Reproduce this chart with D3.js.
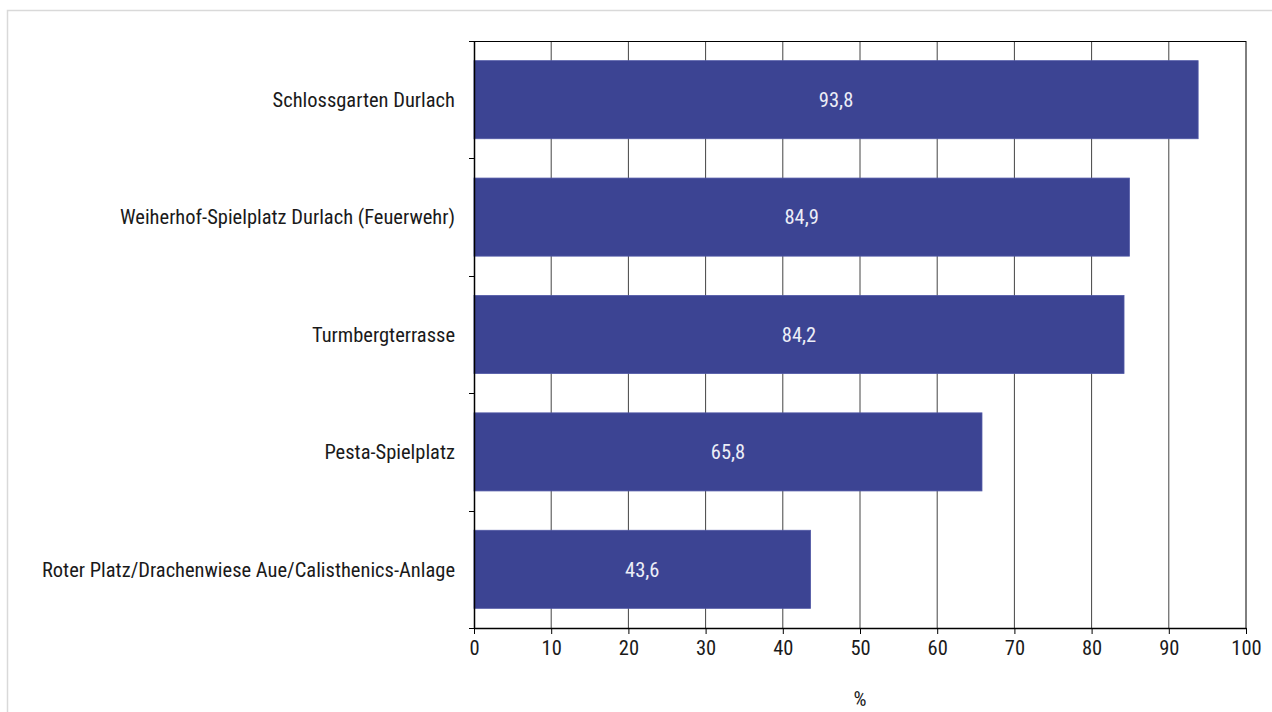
<!DOCTYPE html>
<html>
<head>
<meta charset="utf-8">
<script src="https://cdn.jsdelivr.net/npm/d3@7"></script>
<style>
  html, body { margin: 0; padding: 0; background: #fff; }
  svg { display: block; }
</style>
</head>
<body>
<div id="chart"></div>
<script>
// Categories and values (share in %)
const places = [
  "Schlossgarten Durlach",
  "Weiherhof-Spielplatz Durlach (Feuerwehr)",
  "Turmbergterrasse",
  "Pesta-Spielplatz",
  "Roter Platz/Drachenwiese Aue/Calisthenics-Anlage"
];
const shares = [93.8, 84.9, 84.2, 65.8, 43.6];
const xTicks = [0, 10, 20, 30, 40, 50, 60, 70, 80, 90, 100];
const axisTitle = "%";

const W = 1272, H = 712;
const margin = { top: 41, right: 26, bottom: 84, left: 474 };
const iW = W - margin.left - margin.right;
const iH = H - margin.top - margin.bottom;
const FONT = "'Roboto Condensed', 'Open Sans', sans-serif";
const FS = 20.5;

// shared text styling
function styleText(sel) {
  return sel.attr("font-family", FONT)
    .attr("font-size", FS)
    .attr("font-weight", 400);
}

const svg = d3.select("#chart").append("svg")
  .attr("width", W).attr("height", H);

// light frame around the chart
svg.append("path")
  .attr("d", `M7.5,${H} V10.5 H${W}`)
  .attr("fill", "none")
  .attr("stroke", "#d9d9d9")
  .attr("stroke-width", 1.5);

const g = svg.append("g")
  .attr("transform", `translate(${margin.left},${margin.top})`);

// ── Scales ─────────────────────────────────────
const x = d3.scaleLinear().domain([0, 100]).range([0, iW]);
const y = d3.scaleBand().domain(places).range([0, iH])
  .paddingInner(0.335).paddingOuter(0.1675);

// ── Vertical grid lines ────────────────────────
g.append("g")
  .selectAll("line")
  .data(xTicks.slice(1))
  .join("line")
  .attr("x1", d => x(d)).attr("x2", d => x(d))
  .attr("y1", 0).attr("y2", iH)
  .attr("stroke", d => d === 100 ? "#000" : "#444")
  .attr("stroke-width", 1);

// top border of plot area
g.append("line")
  .attr("x1", 0).attr("x2", iW)
  .attr("y1", 0.5).attr("y2", 0.5)
  .attr("stroke", "#000");

// ── Bars ───────────────────────────────────────
const data = places.map((p, i) => ({ place: p, value: shares[i] }));

g.selectAll("rect.bar")
  .data(data)
  .join("rect")
  .attr("class", "bar")
  .attr("x", 0)
  .attr("y", d => y(d.place))
  .attr("width", d => x(d.value))
  .attr("height", y.bandwidth())
  .attr("fill", "#3c4493")
  .attr("stroke", "#5058a6")
  .attr("stroke-width", 0.8);

// value labels inside bars
g.selectAll("text.val")
  .data(data)
  .join("text")
  .attr("class", "val")
  .attr("x", d => x(d.value) / 2)
  .attr("y", d => y(d.place) + y.bandwidth() / 2)
  .attr("dy", "0.36em")
  .attr("text-anchor", "middle")
  .call(styleText)
  .attr("fill", "#eceef7")
  .text(d => d.value.toFixed(1).replace(".", ","));

// ── Y axis: ticks at category boundaries ───────
const step = y.step();
const bounds = d3.range(places.length + 1).map(i => y(places[0]) - y.paddingOuter() * step + i * step);
g.append("g")
  .selectAll("line")
  .data(bounds)
  .join("line")
  .attr("x1", -5).attr("x2", 0)
  .attr("y1", d => Math.round(d) + 0.5).attr("y2", d => Math.round(d) + 0.5)
  .attr("stroke", "#000");

g.append("line")
  .attr("x1", 0.5).attr("x2", 0.5)
  .attr("y1", 0).attr("y2", iH)
  .attr("stroke", "#000").attr("stroke-width", 1.5);

g.selectAll("text.cat")
  .data(places)
  .join("text")
  .attr("class", "cat")
  .attr("x", -19)
  .attr("y", d => y(d) + y.bandwidth() / 2)
  .attr("dy", "0.36em")
  .attr("text-anchor", "end")
  .call(styleText)
  .attr("fill", "#1a1a1a")
  .text(d => d);

// ── X axis ─────────────────────────────────────
g.append("g")
  .attr("transform", `translate(0,${iH})`)
  .call(d3.axisBottom(x).tickValues(xTicks).tickSize(6).tickPadding(6).tickSizeOuter(0))
  .call(ax => ax.select(".domain").attr("stroke-width", 1.5))
  .call(ax => ax.selectAll("text")
    .call(styleText)
    .attr("fill", "#1a1a1a"));

g.append("text")
  .attr("x", iW / 2)
  .attr("y", iH + 78)
  .attr("text-anchor", "middle")
  .call(styleText)
  .attr("fill", "#1a1a1a")
  .text(axisTitle);
</script>
</body>
</html>
